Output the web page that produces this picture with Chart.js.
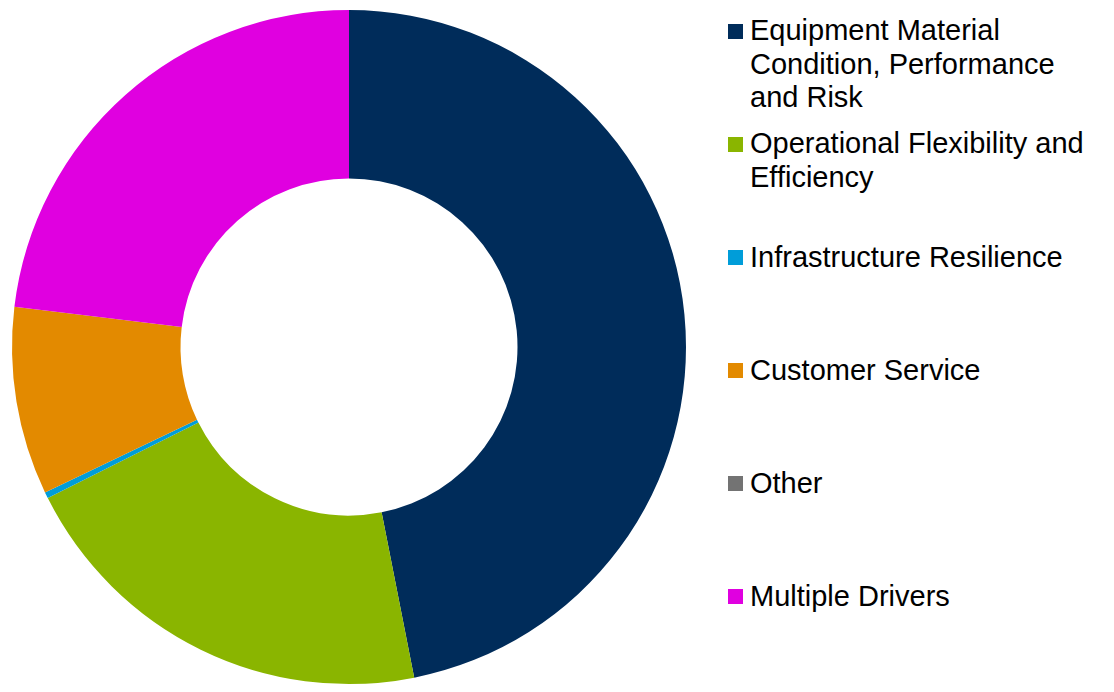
<!DOCTYPE html>
<html>
<head>
<meta charset="utf-8">
<script src="https://cdn.jsdelivr.net/npm/chart.js@4/dist/chart.umd.min.js"></script>
<style>
  html, body { margin: 0; padding: 0; background: #fff; }
  body { width: 1114px; height: 692px; position: relative; overflow: hidden; font-family: "Liberation Sans", Arial, sans-serif; }
  #wrap { position: absolute; left: 0; top: 0; width: 698px; height: 692px; }
  #legend { position: absolute; left: 728px; top: 14.25px; }
  .item { display: flex; align-items: flex-start; height: 113.2px; }
  .box { width: 15px; height: 15px; margin-top: 9.25px; margin-right: 7px; flex: none; }
  .txt { font-size: 29px; line-height: 33.5px; color: #000; white-space: pre-line; }
</style>
</head>
<body>
<div id="wrap"><canvas id="donut"></canvas></div>
<div id="legend"></div>
<script>
// Share of projects by primary driver (%)
const drivers = [
  'Equipment Material\nCondition, Performance\nand Risk',
  'Operational Flexibility and\nEfficiency',
  'Infrastructure Resilience',
  'Customer Service',
  'Other',
  'Multiple Drivers'
];
const shares = [46.9, 20.7, 0.3, 9.0, 0, 23.1];
const colors = ['#002C5A', '#8AB500', '#009DD9', '#E38A00', '#737373', '#E000E0'];

const ctx = document.getElementById('donut').getContext('2d');
const chart = new Chart(ctx, {
  type: 'doughnut',
  data: {
    labels: drivers,
    datasets: [{
      data: shares,
      backgroundColor: colors,
      borderWidth: 0
    }]
  },
  options: {
    responsive: true,
    maintainAspectRatio: false,
    animation: false,
    cutout: '50%',
    layout: { padding: { left: 12, right: 12, top: 10, bottom: 8 } },
    plugins: {
      legend: { display: false },
      tooltip: { enabled: false }
    }
  }
});

// Legend on the right, built from the chart data
const legend = document.getElementById('legend');
chart.data.labels.forEach((label, i) => {
  const item = document.createElement('div');
  item.className = 'item';
  const box = document.createElement('div');
  box.className = 'box';
  box.style.background = chart.data.datasets[0].backgroundColor[i];
  const txt = document.createElement('div');
  txt.className = 'txt';
  txt.textContent = label;
  item.appendChild(box);
  item.appendChild(txt);
  legend.appendChild(item);
});
</script>
</body>
</html>
